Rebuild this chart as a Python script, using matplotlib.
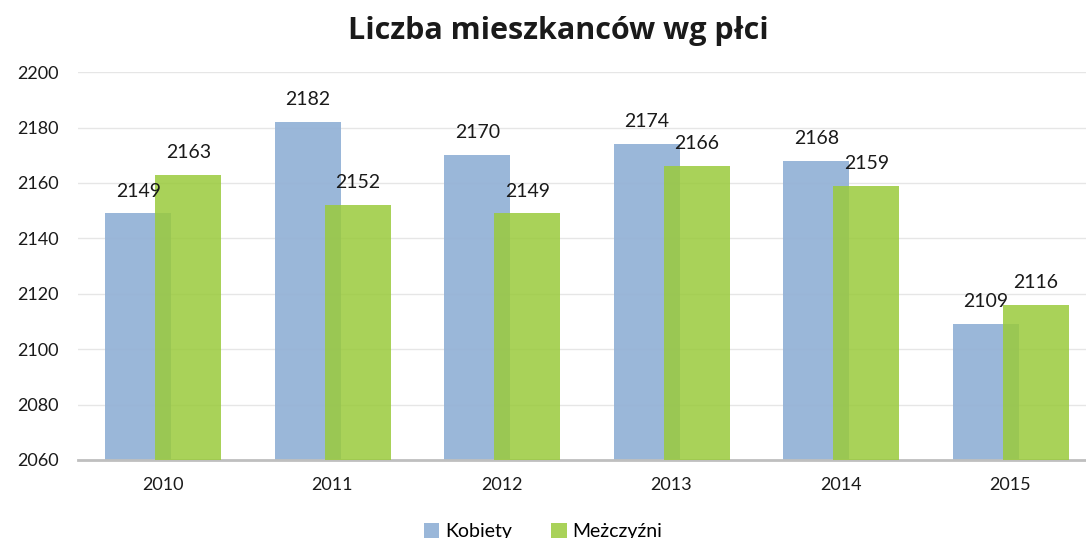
import matplotlib.pyplot as plt
import numpy as np

years = ['2010', '2011', '2012', '2013', '2014', '2015']
kobiety = [2149, 2182, 2170, 2174, 2168, 2109]
mezczyzni = [2163, 2152, 2149, 2166, 2159, 2116]

plt.rcParams['font.family'] = ['Lato', 'DejaVu Sans']

fig = plt.figure(figsize=(10.86, 5.38), dpi=100)
ax = fig.add_axes([0.072, 0.145, 0.9365, 0.721])

x = np.arange(len(years))
w = 0.39
b1 = ax.bar(x - 0.145, kobiety, w, color='#95B3D7', alpha=0.95, label='Kobiety', zorder=2)
b2 = ax.bar(x + 0.15, mezczyzni, w, color='#9ACA3C', alpha=0.85, label='Meżczyźni', zorder=3)

for bars in (b1, b2):
    for rect in bars:
        ax.annotate(f'{int(rect.get_height())}',
                    (rect.get_x() + rect.get_width() / 2, rect.get_height()),
                    xytext=(0, 10), textcoords='offset points',
                    ha='center', va='bottom', fontsize=14, color='#1a1a1a', zorder=5)

ax.set_ylim(2060, 2200)
ax.set_yticks(range(2060, 2201, 20))
ax.set_xlim(-0.5, 5.5)
ax.set_xticks(x)
ax.set_xticklabels(years)
ax.grid(axis='y', color='#e6e6e6', linewidth=1, zorder=0)
ax.set_axisbelow(True)
for s in ('top', 'right', 'left'):
    ax.spines[s].set_visible(False)
ax.spines['bottom'].set_color('#bfbfbf')
ax.spines['bottom'].set_linewidth(2)
ax.tick_params(axis='both', length=0, labelsize=13, colors='#1a1a1a')
ax.tick_params(axis='x', pad=12)
ax.tick_params(axis='y', pad=14)

fig.text(0.514, 0.942, 'Liczba mieszkanców wg płci', ha='center', va='center',
         fontsize=22, fontweight='bold', color='#1a1a1a', family='Open Sans')

fig.legend(handles=[b1, b2], loc='center', bbox_to_anchor=(0.5, 0.012), ncol=2,
           frameon=False, fontsize=14, handlelength=0.8, handleheight=0.8,
           handletextpad=0.3, columnspacing=2.0)

fig.savefig('out.png', dpi=100)
